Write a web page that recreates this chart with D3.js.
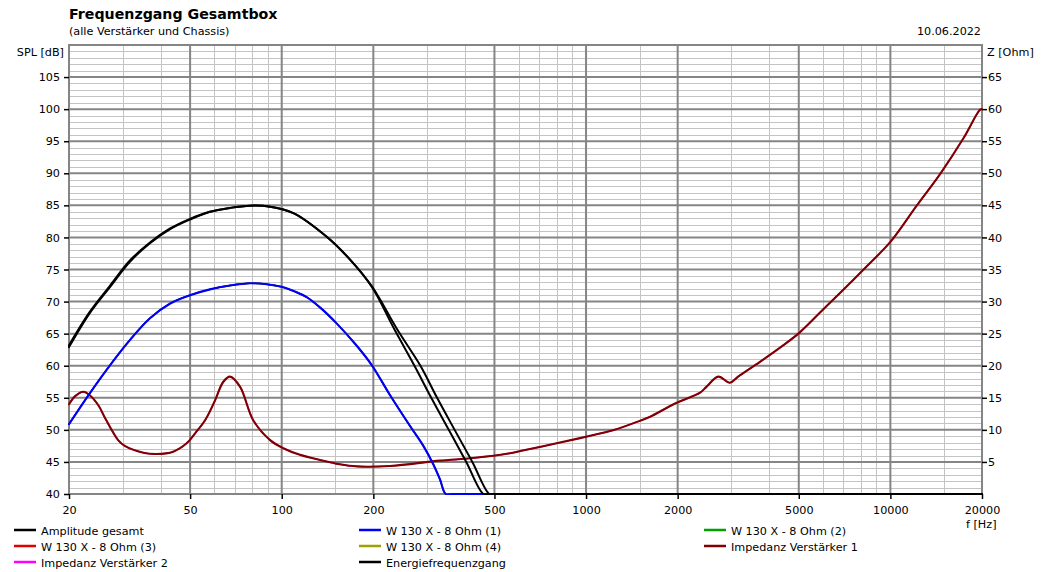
<!DOCTYPE html>
<html>
<head>
<meta charset="utf-8">
<script src="https://cdn.jsdelivr.net/npm/d3@7"></script>
<style>
  html, body { margin: 0; padding: 0; background: #fff; }
  svg { display: block; }
  text { font-family: "DejaVu Sans", Verdana, sans-serif; }
</style>
</head>
<body>
<svg id="chart" width="1047" height="572"></svg>
<script>
// ---------------- data ----------------
const titleText = "Frequenzgang Gesamtbox";
const subtitleText = "(alle Verstärker und Chassis)";
const dateText = "10.06.2022";

const xMajorTicks = [20, 50, 100, 200, 500, 1000, 2000, 5000, 10000, 20000];
const xMinorTicks = [30, 40, 60, 70, 80, 90, 150, 300, 400, 600, 700, 800, 900, 1500, 3000, 4000, 6000, 7000, 8000, 9000, 15000];
const splTicks = [40, 45, 50, 55, 60, 65, 70, 75, 80, 85, 90, 95, 100, 105];
const ohmTicks = [5, 10, 15, 20, 25, 30, 35, 40, 45, 50, 55, 60, 65];

// Amplitude gesamt (dB)
const ampFreq = [20, 23.4, 27.3, 31.7, 36.9, 43.0, 50, 58.1, 67.6, 78.6, 91.6, 109.2, 140.6, 168, 197.6, 235, 273, 310, 354, 404, 460, 480, 20000];
const ampSpl  = [62.9, 68.2, 72.3, 76.2, 79.1, 81.3, 82.8, 84.0, 84.6, 84.95, 84.8, 83.8, 80.1, 76.5, 72.3, 65.6, 60.0, 55.0, 50.0, 45.0, 40, 40, 40];

// Energiefrequenzgang (dB)
const enFreq = [20, 23.4, 27.3, 31.7, 36.9, 43.0, 50, 58.1, 67.6, 78.6, 91.6, 109.2, 140.6, 168, 197.6, 240, 285.6, 324, 370, 423, 481, 500, 20000];
const enSpl  = [63.2, 68.4, 72.5, 76.4, 79.2, 81.4, 82.9, 84.0, 84.6, 84.95, 84.8, 83.8, 80.1, 76.5, 72.4, 65.6, 60.0, 55.0, 50.0, 45.0, 40, 40, 40];

// W 130 X - 8 Ohm (1..4) (dB) – identical curves
const wFreq = [20, 23.4, 27.3, 31.7, 36.9, 43.0, 50, 58.1, 67.6, 78.6, 89.3, 100, 110, 120.8, 135, 151.5, 175, 197.6, 227, 264, 292, 315, 331, 346, 365, 20000];
const wSpl  = [50.9, 55.7, 60.1, 64.0, 67.4, 69.7, 71.0, 71.9, 72.5, 72.85, 72.7, 72.3, 71.6, 70.7, 68.9, 66.6, 63.3, 60.1, 55.4, 50.6, 47.5, 44.6, 42.3, 40, 40, 40];

// Impedanz Verstärker 1 / 2 (Ohm)
const zFreq = [20, 21, 22.3, 23.4, 25, 26.3, 29.0, 30.5, 35.1, 38.8, 44, 48.7, 52, 56, 60, 64.3, 67.6, 73, 80.6, 91.6, 101.6, 114.8, 133.6, 155, 176.6, 227, 331, 425, 562, 608, 800, 1000, 1234, 1500, 1624, 1960, 2370, 2485, 2720, 2970, 3160, 3728, 4452, 5040, 6020, 6990, 8320, 10000, 12220, 14620, 17400, 19700, 20000];
const zOhm  = [14.0, 15.3, 15.95, 15.4, 13.8, 11.8, 8.4, 7.5, 6.44, 6.24, 6.6, 7.9, 9.5, 11.5, 14.3, 17.5, 18.3, 16.7, 11.5, 8.4, 7.1, 6.1, 5.3, 4.63, 4.3, 4.37, 5.2, 5.6, 6.35, 6.7, 7.9, 8.93, 9.98, 11.4, 12.05, 14.1, 15.8, 16.7, 18.3, 17.35, 18.3, 20.6, 23.2, 25.2, 28.8, 31.8, 35.4, 39.3, 45.0, 50.0, 55.5, 59.9, 60.0];

const legendNames = ["Amplitude gesamt", "W 130 X - 8 Ohm (1)", "W 130 X - 8 Ohm (2)",
                     "W 130 X - 8 Ohm (3)", "W 130 X - 8 Ohm (4)", "Impedanz Verstärker 1",
                     "Impedanz Verstärker 2", "Energiefrequenzgang"];
const legendColors = ["#000000", "#0000ff", "#00a000", "#e00000", "#a0a000", "#800000", "#ff00ff", "#000000"];

// ---------------- layout ----------------
const svg = d3.select("#chart");
const L = 69, R = 982, T = 45, B = 494;

const x = d3.scaleLog().domain([20, 20000]).range([L, R]);
const y = d3.scaleLinear().domain([40, 110]).range([B, T]);
const yz = d3.scaleLinear().domain([0, 70]).range([B, T]);

svg.append("rect").attr("width", 1047).attr("height", 572).attr("fill", "#fff");
svg.append("defs").append("clipPath").attr("id", "plotclip")
  .append("rect").attr("x", L - 2).attr("y", T - 2).attr("width", R - L + 4).attr("height", B - T + 3);

// grid
const g = svg.append("g");
const minorH = d3.range(41, 110).filter(v => v % 5 !== 0);
const majorH = d3.range(45, 110, 5);
g.selectAll(".mh").data(minorH).join("line")
  .attr("x1", L).attr("x2", R).attr("y1", d => Math.round(y(d)) + 0.5).attr("y2", d => Math.round(y(d)) + 0.5)
  .attr("stroke", "#c4c4c4").attr("stroke-width", 1);
g.selectAll(".mv").data(xMinorTicks).join("line")
  .attr("y1", T).attr("y2", B).attr("x1", d => Math.round(x(d)) + 0.5).attr("x2", d => Math.round(x(d)) + 0.5)
  .attr("stroke", "#c4c4c4").attr("stroke-width", 1);
g.selectAll(".Mh").data(majorH).join("line")
  .attr("x1", L).attr("x2", R).attr("y1", d => y(d)).attr("y2", d => y(d))
  .attr("stroke", "#858585").attr("stroke-width", 2);
g.selectAll(".Mv").data(xMajorTicks.slice(1, -1)).join("line")
  .attr("y1", T).attr("y2", B).attr("x1", d => x(d)).attr("x2", d => x(d))
  .attr("stroke", "#858585").attr("stroke-width", 2);

// frame
svg.append("rect").attr("x", L).attr("y", T).attr("width", R - L).attr("height", B - T)
  .attr("fill", "none").attr("stroke", "#858585").attr("stroke-width", 2);

// axes
const fs = "11.2px";
const axL = svg.append("g").attr("transform", `translate(${L},0)`)
  .call(d3.axisLeft(y).tickValues(splTicks).tickSize(5).tickPadding(4).tickFormat(d3.format("d")));
const axR = svg.append("g").attr("transform", `translate(${R},0)`)
  .call(d3.axisRight(yz).tickValues(ohmTicks).tickSize(5).tickPadding(1).tickFormat(d3.format("d")));
const axB = svg.append("g").attr("transform", `translate(0,${B})`)
  .call(d3.axisBottom(x).tickValues(xMajorTicks).tickSize(5).tickPadding(7).tickFormat(d3.format("d")));
[axL, axR, axB].forEach(a => {
  a.select(".domain").remove();
  a.selectAll("text").attr("font-family", "DejaVu Sans").attr("font-size", fs).attr("fill", "#000");
  a.selectAll("line").attr("stroke", "#000").attr("stroke-width", 1.5);
});

// curves
const cr = d3.curveCatmullRom.alpha(0.5);
const lineSpl = d3.line().x(d => x(d[0])).y(d => y(d[1])).curve(cr);
const lineZ = d3.line().x(d => x(d[0])).y(d => yz(d[1])).curve(cr);
const zip = (a, b) => a.map((v, i) => [v, b[i]]);

const curves = svg.append("g").attr("clip-path", "url(#plotclip)")
  .attr("fill", "none").attr("stroke-linejoin", "round").attr("stroke-linecap", "round");
curves.append("path").attr("d", lineZ(zip(zFreq, zOhm))).attr("stroke", legendColors[6]).attr("stroke-width", 1.4);
curves.append("path").attr("d", lineSpl(zip(wFreq, wSpl))).attr("stroke", legendColors[4]).attr("stroke-width", 1.4);
curves.append("path").attr("d", lineSpl(zip(wFreq, wSpl))).attr("stroke", legendColors[3]).attr("stroke-width", 1.4);
curves.append("path").attr("d", lineSpl(zip(wFreq, wSpl))).attr("stroke", legendColors[2]).attr("stroke-width", 1.4);
curves.append("path").attr("d", lineZ(zip(zFreq, zOhm))).attr("stroke", legendColors[5]).attr("stroke-width", 2.1);
curves.append("path").attr("d", lineSpl(zip(wFreq, wSpl))).attr("stroke", legendColors[1]).attr("stroke-width", 2.1);
curves.append("path").attr("d", lineSpl(zip(enFreq, enSpl))).attr("stroke", legendColors[7]).attr("stroke-width", 2);
curves.append("path").attr("d", lineSpl(zip(ampFreq, ampSpl))).attr("stroke", legendColors[0]).attr("stroke-width", 2);

// titles
svg.append("text").attr("x", 69).attr("y", 19).attr("font-size", "14.2px").attr("font-weight", "bold").text(titleText);
svg.append("text").attr("x", 69).attr("y", 35).attr("font-size", fs).text(subtitleText);
svg.append("text").attr("x", 981).attr("y", 35).attr("font-size", fs).attr("text-anchor", "end").text(dateText);
svg.append("text").attr("x", 64).attr("y", 56).attr("font-size", fs).attr("text-anchor", "end").text("SPL [dB]");
svg.append("text").attr("x", 987).attr("y", 56).attr("font-size", fs).text("Z [Ohm]");
svg.append("text").attr("x", 966).attr("y", 528).attr("font-size", fs).text("f [Hz]");

// legend
const colX = [14, 359, 704];
const rowY = [530, 546, 562];
const leg = svg.append("g");
legendNames.forEach((name, i) => {
  const cx = colX[i % 3], cy = rowY[Math.floor(i / 3)];
  leg.append("line").attr("x1", cx).attr("x2", cx + 22).attr("y1", cy).attr("y2", cy)
    .attr("stroke", legendColors[i]).attr("stroke-width", 2.5);
  leg.append("text").attr("x", cx + 27).attr("y", cy + 5).attr("font-size", fs).text(name);
});
</script>
</body>
</html>
